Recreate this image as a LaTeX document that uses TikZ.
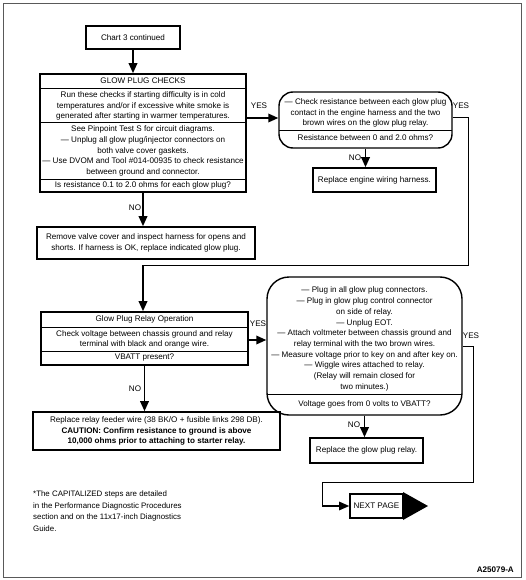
\documentclass[tikz,border=0pt]{standalone}
\usepackage{fontspec}
\setmainfont{Liberation Sans}
\usetikzlibrary{arrows.meta,calc}
\newcommand\fs{\fontsize{8.1}{10.7}\selectfont}
\tikzset{
  box/.style={draw, line width=1.6pt, inner sep=0pt},
  rbox/.style={draw, line width=1.4pt, inner sep=0pt},
  txt/.style={font=\fs, align=center, inner sep=0pt},
  ltxt/.style={font=\fs, align=left, inner sep=0pt, anchor=north west},
  lbl/.style={font=\fs, inner sep=0pt},
  arr/.style={line width=1.8pt, -{Triangle[width=8.5pt,length=10pt]}},
  wire/.style={line width=1pt},
  divider/.style={line width=0.8pt}
}
\begin{document}
\begin{tikzpicture}[x=1pt,y=-1pt]
\useasboundingbox (0,0) rectangle (525,580);
\draw[gray!70!black, line width=0.8pt] (3,3) rectangle (521,577);

% Chart 3 continued
\node[box, minimum width=94pt, minimum height=23pt, txt] (chart) at (133,37.5) {Chart 3 continued};

% Glow plug checks
\node[box, minimum width=206pt, minimum height=118pt] (glow) at (143,133) {};
\draw[divider] (40,88) -- (246,88);
\draw[divider] (40,122) -- (246,122);
\draw[divider] (40,179) -- (246,179);
\node[txt] (g1) at (143,81) {GLOW PLUG CHECKS};
\node[txt] (g2) at (143,106) {Run these checks if starting difficulty is in cold\\temperatures and/or if excessive white smoke is\\generated after starting in warmer temperatures.};
\node[txt] (g3) at (143,151) {See Pinpoint Test S for circuit diagrams.\\--- Unplug all glow plug/injector connectors on\\both valve cover gaskets.\\--- Use DVOM and Tool \#014-00935 to check resistance\\between ground and connector.};
\node[txt] (g4) at (143,185.5) {Is resistance 0.1 to 2.0 ohms for each glow plug?};

% Rounded box 1
\node[rbox, rounded corners=14pt, minimum width=173pt, minimum height=56pt] (rb1) at (365.5,120) {};
\draw[divider] (279,130) -- (452,130);
\node[txt] (r1a) at (365.5,113) {--- Check resistance between each glow plug\\contact in the engine harness and the two\\brown wires on the glow plug relay.};
\node[txt] (r1b) at (365.5,137.5) {Resistance between 0 and 2.0 ohms?};

% Replace engine wiring harness
\node[box, minimum width=123pt, minimum height=24pt, txt] (engine) at (374.5,180) {Replace engine wiring harness.};

% Remove valve cover
\node[box, minimum width=218pt, minimum height=32pt, txt] (remove) at (146,243) {Remove valve cover and inspect harness for opens and\\shorts. If harness is OK, replace indicated glow plug.};

% Relay operation box
\node[box, minimum width=207pt, minimum height=53pt] (relay) at (144.5,338.5) {};
\draw[divider] (41,327) -- (248,327);
\draw[divider] (41,351) -- (248,351);
\node[txt] (ro1) at (144.5,319.5) {Glow Plug Relay Operation};
\node[txt] (ro2) at (144.5,339.5) {Check voltage between chassis ground and relay\\terminal with black and orange wire.};
\node[txt] (ro3) at (144.5,358) {VBATT present?};

% Rounded box 2
\node[rbox, rounded corners=22pt, minimum width=195pt, minimum height=138pt] (rb2) at (364.5,346) {};
\draw[divider] (267,394) -- (462,394);
\node[txt] (r2a) at (364.5,339) {--- Plug in all glow plug connectors.\\--- Plug in glow plug control connector\\on side of relay.\\--- Unplug EOT.\\--- Attach voltmeter between chassis ground and\\relay terminal with the two brown wires.\\--- Measure voltage prior to key on and after key on.\\--- Wiggle wires attached to relay.\\(Relay will remain closed for\\two minutes.)};
\node[txt] (r2b) at (364.5,404) {Voltage goes from 0 volts to VBATT?};

% Replace glow plug relay
\node[box, minimum width=113pt, minimum height=25pt, txt] (grelay) at (366.5,450.5) {Replace the glow plug relay.};

% Replace relay feeder wire
\node[box, minimum width=247pt, minimum height=38pt, txt] (feeder) at (156.5,431) {Replace relay feeder wire (38 BK/O + fusible links 298 DB).\\\textbf{CAUTION: Confirm resistance to ground is above}\\\textbf{10,000 ohms prior to attaching to starter relay.}};

% Next page
\node[box, minimum width=53pt, minimum height=24pt, txt] (next) at (376.5,506) {NEXT PAGE};
\coordinate (tritop) at (403,492);
\coordinate (tritip) at (428,506);
\coordinate (tribot) at (403,520);
\fill (tritop) -- (tritip) -- (tribot) -- cycle;

% Footnote
\node[ltxt, font=\fontsize{7.9}{11.5}\selectfont] (foot) at (33,491) {*The CAPITALIZED steps are detailed\\in the Performance Diagnostic Procedures\\section and on the 11x17-inch Diagnostics\\Guide.};
\node[lbl, font=\bfseries\fs, anchor=east] (fig) at (514,570) {A25079-A};

% Connectors
\draw[arr] (chart.south) -- (chart.south |- glow.north);
\draw[arr] (glow.east |- 0,118) -- (rb1.west |- 0,118);
\node[lbl] (yes1) at (259,106) {YES};
\draw[arr] (glow.south) -- (glow.south |- remove.north);
\node[lbl] (no1) at (135,208) {NO};
\draw[arr] (rb1.south) -- (rb1.south |- engine.north);
\node[lbl] (no2) at (355,158) {NO};
\coordinate (c1) at (468,118);
\coordinate (c2) at (468,265);
\coordinate (c3) at (143,265);
\draw[wire] (rb1.east |- c1) -- (c1) -- (c2) -- (c3);
\draw[arr] (c3) -- (c3 |- relay.north);
\node[lbl] (yes2) at (461,106) {YES};
\draw[arr] (relay.east |- 0,340) -- (rb2.west |- 0,340);
\node[lbl] (yes3) at (258,324) {YES};
\draw[arr] (relay.south) -- (relay.south |- feeder.north);
\node[lbl] (no3) at (135,389) {NO};
\draw[arr] (rb2.south) -- (rb2.south |- grelay.north);
\node[lbl] (no4) at (354,425) {NO};
\coordinate (d1) at (473,346);
\coordinate (d2) at (473,482);
\coordinate (d3) at (322,482);
\coordinate (d4) at (322,506);
\draw[wire] (rb2.east |- d1) -- (d1) -- (d2) -- (d3) -- (d4);
\draw[arr, line width=1.2pt] (d4) -- (next.west);
\node[lbl] (yes4) at (471,336) {YES};
\end{tikzpicture}
\end{document}
